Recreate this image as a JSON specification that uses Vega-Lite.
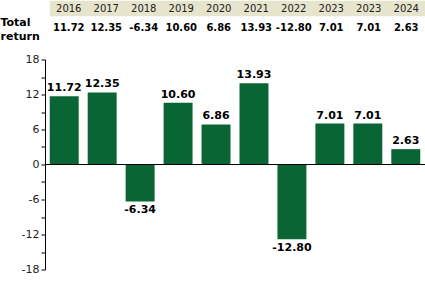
{
  "$schema": "https://vega.github.io/schema/vega-lite/v6.json",
  "padding": 0,
  "background": "white",
  "config": {"view": {"stroke": null}, "font": "DejaVu Sans"},
  "data": {"values": [
    {"idx": 0, "year": "2016", "value": 11.72, "label": "11.72"},
    {"idx": 1, "year": "2017", "value": 12.35, "label": "12.35"},
    {"idx": 2, "year": "2018", "value": -6.34, "label": "-6.34"},
    {"idx": 3, "year": "2019", "value": 10.60, "label": "10.60"},
    {"idx": 4, "year": "2020", "value": 6.86, "label": "6.86"},
    {"idx": 5, "year": "2021", "value": 13.93, "label": "13.93"},
    {"idx": 6, "year": "2022", "value": -12.80, "label": "-12.80"},
    {"idx": 7, "year": "2023", "value": 7.01, "label": "7.01"},
    {"idx": 8, "year": "2023", "value": 7.01, "label": "7.01"},
    {"idx": 9, "year": "2024", "value": 2.63, "label": "2.63"}
  ]},
  "spacing": 12.5,
  "resolve": {"scale": {"x": "independent", "y": "independent"}},
  "vconcat": [
    {
      "width": 380,
      "height": 30,
      "layer": [
        {
          "mark": {"type": "rect", "color": "#e6e4cc", "stroke": "#e6e4cc", "strokeWidth": 0.5},
          "encoding": {
            "x": {"field": "idx", "type": "ordinal", "scale": {"type": "band", "paddingInner": 0, "paddingOuter": 0.0667, "align": 1}, "axis": null},
            "y": {"datum": "h", "type": "nominal", "scale": {"type": "band", "domain": ["h", "v"], "paddingInner": 0, "paddingOuter": 0},
                  "axis": {"title": ["Total", "return"], "labels": false, "ticks": false, "domain": false, "titleAngle": 0, "titleAlign": "left", "titleBaseline": "top", "titleX": -45, "titleY": 15, "titleFontSize": 11, "titleFontWeight": "bold", "titleColor": "black", "titleLineHeight": 14, "titleFont": "DejaVu Sans"}}
          }
        },
        {
          "mark": {"type": "text", "fontSize": 10, "color": "#222"},
          "encoding": {
            "x": {"field": "idx", "type": "ordinal", "scale": {"type": "band", "paddingInner": 0, "paddingOuter": 0.0667, "align": 1}, "axis": null},
            "y": {"datum": "h", "type": "nominal", "scale": {"type": "band", "domain": ["h", "v"], "paddingInner": 0, "paddingOuter": 0},
                  "axis": {"title": ["Total", "return"], "labels": false, "ticks": false, "domain": false, "titleAngle": 0, "titleAlign": "left", "titleBaseline": "top", "titleX": -45, "titleY": 15, "titleFontSize": 11, "titleFontWeight": "bold", "titleColor": "black", "titleLineHeight": 14, "titleFont": "DejaVu Sans"}},
            "text": {"field": "year"}
          }
        },
        {
          "mark": {"type": "text", "fontSize": 10, "fontWeight": "bold", "color": "black", "dy": 4},
          "encoding": {
            "x": {"field": "idx", "type": "ordinal", "scale": {"type": "band", "paddingInner": 0, "paddingOuter": 0.0667, "align": 1}, "axis": null},
            "y": {"datum": "v", "type": "nominal", "scale": {"type": "band", "domain": ["h", "v"], "paddingInner": 0, "paddingOuter": 0},
                  "axis": {"title": ["Total", "return"], "labels": false, "ticks": false, "domain": false, "titleAngle": 0, "titleAlign": "left", "titleBaseline": "top", "titleX": -45, "titleY": 15, "titleFontSize": 11, "titleFontWeight": "bold", "titleColor": "black", "titleLineHeight": 14, "titleFont": "DejaVu Sans"}},
            "text": {"field": "label"}
          }
        }
      ]
    },
    {
      "width": 380,
      "height": 210,
      "encoding": {
        "x": {"field": "idx", "type": "ordinal", "scale": {"type": "band", "paddingInner": 0.237, "paddingOuter": 0.125}, "axis": null},
        "y": {"field": "value", "type": "quantitative", "scale": {"domain": [-18, 18], "nice": false, "zero": true},
              "axis": {"values": [-18, -15, -12, -9, -6, -3, 0, 3, 6, 9, 12, 15, 18], "labelExpr": "datum.value % 6 === 0 ? '' + datum.value : ''", "labelOverlap": false, "tickSize": 4, "grid": false, "domainColor": "black", "tickColor": "black", "labelColor": "#222", "labelFontSize": 11, "labelPadding": 2, "title": null, "labelFont": "DejaVu Sans"}}
      },
      "layer": [
        {"mark": {"type": "bar", "color": "#0a6535"}},
        {"mark": {"type": "rule", "color": "black"}, "encoding": {"x": null, "y": {"datum": 0, "type": "quantitative"}}},
        {
          "transform": [{"filter": "datum.value >= 0"}],
          "mark": {"type": "text", "baseline": "bottom", "dy": -3, "fontSize": 11, "fontWeight": "bold", "color": "black"},
          "encoding": {"text": {"field": "label"}}
        },
        {
          "transform": [{"filter": "datum.value < 0"}],
          "mark": {"type": "text", "baseline": "top", "dy": 3, "fontSize": 11, "fontWeight": "bold", "color": "black"},
          "encoding": {"text": {"field": "label"}}
        }
      ]
    }
  ]
}
